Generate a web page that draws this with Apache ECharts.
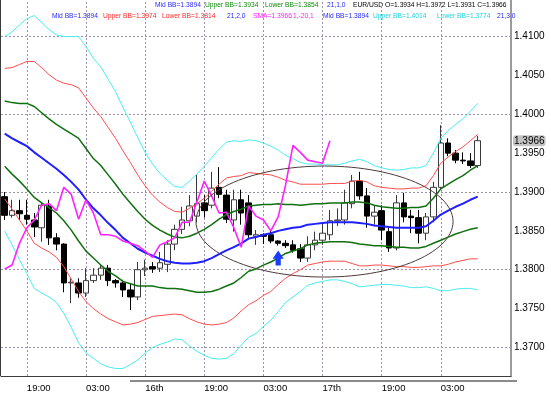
<!DOCTYPE html>
<html><head><meta charset="utf-8">
<script src="https://cdn.jsdelivr.net/npm/echarts@6/dist/echarts.min.js"></script>
<style>html,body{margin:0;padding:0;background:#fff;}#c{width:551px;height:395px;}</style>
</head><body><div id="c"></div>
<script>
// ---------- data ----------
const barCount = 69;
const tickIndex = [3, 11, 19, 27, 35, 43, 51, 59];
const tickLabels = ['19:00', '03:00', '16th', '19:00', '03:00', '17th', '19:00', '03:00'];
const priceTicks = [1.37, 1.375, 1.38, 1.385, 1.39, 1.395, 1.40, 1.405, 1.41];

const opens = [1.3894,1.3870,1.3876,1.3870,1.3864,1.3854,1.3882,1.3841,1.3833,1.3783,
1.3783,1.3770,1.3786,1.3793,1.3802,1.3786,1.3783,1.3774,1.3765,1.3800,
1.3804,1.3802,1.3807,1.3833,1.3852,1.3863,1.3869,1.3886,1.3883,1.3906,
1.3896,1.3864,1.3890,1.3886,1.3843,1.3845,1.3845,1.3837,1.3834,1.3832,
1.3827,1.3815,1.3832,1.3838,1.3845,1.3863,1.3864,1.3885,1.3914,1.3895,
1.3869,1.3876,1.3849,1.3828,1.3886,1.3869,1.3867,1.3847,1.3868,1.3906,
1.3963,1.3950,1.3941,1.3940,1.3934];
const closes = [1.3870,1.3876,1.3872,1.3865,1.3855,1.3883,1.3841,1.3833,1.3783,1.3784,
1.3770,1.3786,1.3793,1.3802,1.3786,1.3783,1.3774,1.3765,1.3800,1.3802,
1.3801,1.3809,1.3833,1.3852,1.3864,1.3882,1.3885,1.3876,1.3905,1.3897,
1.3865,1.3890,1.3873,1.3845,1.3845,1.3843,1.3837,1.3834,1.3831,1.3825,
1.3815,1.3832,1.3838,1.3847,1.3863,1.3864,1.3886,1.3914,1.3895,1.3869,
1.3874,1.3851,1.3828,1.3886,1.3868,1.3867,1.3847,1.3868,1.3906,1.3963,
1.3950,1.3941,1.3940,1.3934,1.3966];
const lows = [1.3864,1.3867,1.3864,1.3858,1.3842,1.3836,1.3832,1.3825,1.3771,1.3757,
1.3764,1.3765,1.3783,1.3787,1.3779,1.3777,1.3765,1.3748,1.3761,1.3792,
1.3796,1.3797,1.3797,1.3825,1.3846,1.3856,1.3861,1.3867,1.3879,1.3892,
1.3860,1.3849,1.3858,1.3841,1.3832,1.3833,1.3834,1.3831,1.3828,1.3822,
1.3810,1.3810,1.3825,1.3832,1.3838,1.3856,1.3858,1.3879,1.3890,1.3854,
1.3858,1.3838,1.3823,1.3825,1.3861,1.3847,1.3834,1.3838,1.3861,1.3903,
1.3946,1.3937,1.3936,1.3931,1.3931];
const highs = [1.3900,1.3890,1.3890,1.3890,1.3873,1.3887,1.3890,1.3847,1.3834,1.3789,
1.3789,1.3802,1.3802,1.3806,1.3806,1.3788,1.3787,1.3783,1.3810,1.3813,
1.3810,1.3823,1.3838,1.3858,1.3881,1.3896,1.3922,1.3896,1.3926,1.3932,
1.3903,1.3903,1.3903,1.3896,1.3851,1.3847,1.3851,1.3838,1.3838,1.3838,
1.3833,1.3843,1.3849,1.3861,1.3877,1.3879,1.3903,1.3922,1.3926,1.3905,
1.3883,1.3883,1.3854,1.3896,1.3899,1.3877,1.3877,1.3873,1.3913,1.3986,
1.3969,1.3954,1.3951,1.3950,1.3972];

const midBB = [1.3975,1.3969,1.3964,1.3959,1.3951,1.3944,1.3937,1.3930,1.3922,1.3913,
1.3903,1.3890,1.3879,1.3870,1.3860,1.3851,1.3841,1.3834,1.3827,1.3822,
1.3818,1.3814,1.3811,1.3809,1.3808,1.3808,1.3809,1.3811,1.3815,1.3820,
1.3825,1.3829,1.3834,1.3840,1.3842,1.3845,1.3847,1.3850,1.3852,1.3854,
1.3855,1.3858,1.3859,1.3860,1.3861,1.3861,1.3861,1.3861,1.3860,1.3859,
1.3857,1.3856,1.3855,1.3854,1.3854,1.3854,1.3854,1.3856,1.3863,1.3871,
1.3876,1.3881,1.3885,1.3890,1.3894];
const upperBB1 = [1.4017,1.4015,1.4014,1.4014,1.4010,1.4002,1.3994,1.3987,1.3981,1.3975,
1.3969,1.3956,1.3943,1.3934,1.3922,1.3910,1.3897,1.3886,1.3875,1.3865,
1.3857,1.3851,1.3846,1.3842,1.3841,1.3843,1.3847,1.3852,1.3858,1.3865,
1.3871,1.3875,1.3878,1.3882,1.3883,1.3884,1.3884,1.3885,1.3884,1.3884,
1.3883,1.3884,1.3885,1.3885,1.3886,1.3886,1.3886,1.3887,1.3887,1.3886,
1.3883,1.3881,1.3880,1.3879,1.3879,1.3880,1.3880,1.3882,1.3892,1.3904,
1.3910,1.3916,1.3921,1.3928,1.3934];
const lowerBB1 = [1.3933,1.3923,1.3914,1.3904,1.3893,1.3886,1.3880,1.3873,1.3863,1.3851,
1.3837,1.3824,1.3815,1.3806,1.3798,1.3792,1.3785,1.3782,1.3779,1.3779,
1.3779,1.3777,1.3776,1.3776,1.3775,1.3773,1.3771,1.3771,1.3772,1.3775,
1.3779,1.3783,1.3790,1.3798,1.3801,1.3806,1.3810,1.3815,1.3821,1.3824,
1.3827,1.3832,1.3834,1.3835,1.3836,1.3836,1.3836,1.3835,1.3833,1.3832,
1.3831,1.3831,1.3830,1.3829,1.3829,1.3828,1.3828,1.3830,1.3834,1.3838,
1.3842,1.3846,1.3849,1.3852,1.3854];
const upperBB2 = [1.4059,1.4060,1.4064,1.4068,1.4068,1.4060,1.4051,1.4044,1.4040,1.4038,
1.4034,1.4021,1.4008,1.3997,1.3983,1.3969,1.3953,1.3938,1.3922,1.3908,
1.3896,1.3887,1.3880,1.3875,1.3874,1.3879,1.3885,1.3892,1.3901,1.3910,
1.3918,1.3920,1.3921,1.3925,1.3924,1.3923,1.3922,1.3919,1.3915,1.3913,
1.3910,1.3910,1.3910,1.3910,1.3911,1.3911,1.3911,1.3914,1.3915,1.3913,
1.3908,1.3906,1.3905,1.3904,1.3904,1.3905,1.3905,1.3908,1.3921,1.3937,
1.3945,1.3952,1.3958,1.3966,1.3974];
const lowerBB2 = [1.3891,1.3878,1.3864,1.3850,1.3834,1.3828,1.3823,1.3816,1.3804,1.3788,
1.3772,1.3759,1.3750,1.3743,1.3737,1.3733,1.3729,1.3730,1.3732,1.3736,
1.3740,1.3741,1.3742,1.3743,1.3742,1.3737,1.3733,1.3730,1.3729,1.3730,
1.3732,1.3738,1.3747,1.3755,1.3760,1.3767,1.3772,1.3781,1.3789,1.3795,
1.3800,1.3806,1.3808,1.3810,1.3811,1.3811,1.3811,1.3808,1.3805,1.3805,
1.3806,1.3806,1.3805,1.3804,1.3804,1.3803,1.3803,1.3804,1.3805,1.3805,
1.3807,1.3810,1.3812,1.3814,1.3814];
const upperBB3 = [1.4100,1.4106,1.4115,1.4123,1.4127,1.4118,1.4109,1.4102,1.4100,1.4100,
1.4100,1.4087,1.4072,1.4061,1.4045,1.4029,1.4009,1.3990,1.3970,1.3951,
1.3936,1.3924,1.3915,1.3907,1.3906,1.3914,1.3923,1.3933,1.3944,1.3955,
1.3964,1.3966,1.3965,1.3967,1.3966,1.3963,1.3959,1.3954,1.3947,1.3943,
1.3938,1.3936,1.3936,1.3935,1.3935,1.3935,1.3937,1.3940,1.3942,1.3939,
1.3934,1.3931,1.3929,1.3928,1.3929,1.3931,1.3931,1.3934,1.3950,1.3969,
1.3979,1.3987,1.3994,1.4004,1.4014];
const lowerBB3 = [1.3850,1.3832,1.3813,1.3795,1.3776,1.3770,1.3765,1.3758,1.3744,1.3726,
1.3706,1.3693,1.3686,1.3679,1.3675,1.3673,1.3673,1.3678,1.3684,1.3693,
1.3700,1.3704,1.3707,1.3711,1.3710,1.3702,1.3695,1.3690,1.3686,1.3685,
1.3686,1.3692,1.3703,1.3713,1.3718,1.3727,1.3735,1.3746,1.3758,1.3765,
1.3772,1.3780,1.3783,1.3785,1.3787,1.3787,1.3785,1.3782,1.3778,1.3779,
1.3780,1.3781,1.3781,1.3780,1.3779,1.3777,1.3777,1.3778,1.3776,1.3773,
1.3773,1.3775,1.3776,1.3776,1.3774];
// SMA(1) shifted -20 bars
const smaShifted = [1.3801,1.3806,1.3834,1.3854,1.3864,1.3883,1.3885,1.3876,1.3906,1.3897,
1.3865,1.3890,1.3873,1.3845,1.3845,1.3843,1.3837,1.3834,1.3831,1.3824,
1.3816,1.3832,1.3836,1.3841,1.3861,1.3861,1.3887,1.3914,1.3895,1.3873,
1.3874,1.3854,1.3829,1.3882,1.3869,1.3864,1.3850,1.3868,1.3909,1.3960,
1.3951,1.3941,1.3939,1.3937,1.3966];

const lastPrice = 1.3966;
const arrowMark = { index: 37, value: 1.3815 };
const ellipseNote = { centerIndex: 43.27, centerValue: 1.3862, halfWidthBars: 17.39, halfHeight: 0.00714 };

// ---------- chart ----------
const cats = Array.from({ length: barCount }, (_, i) => 'b' + i);
const candles = opens.map((o, i) => [o, closes[i], lows[i], highs[i]]);
const last = opens.length - 1;
const f4 = v => v.toFixed(4);

const FONT = 'Liberation Sans';
const gridColor = '#9c90b0';

const lineSeries = (data, color, width) => ({
  type: 'line', data, symbol: 'none', showSymbol: false, silent: true, z: 4,
  lineStyle: { color, width }, animation: false
});

const hdr = [];
function addText(x, y, text, color) {
  hdr.push({ type: 'text', x, y, silent: true,
    style: { text, fill: color, font: '6.7px "' + FONT + '"', textVerticalAlign: 'top' } });
}
const cBlue = '#2a2aff', cGreen = '#108a10', cRed = '#ff2a2a', cMag = '#ff22ff', cCyan = '#20d0dc';
addText(155, 2, 'Mid BB=' + f4(midBB[last]), cBlue);
addText(205, 2, 'Upper BB=' + f4(upperBB1[last]), cGreen);
addText(265, 2, 'Lower BB=' + f4(lowerBB1[last]), cGreen);
addText(327, 2, '21,1,0', cBlue);
addText(353, 2, 'EUR/USD O=' + f4(opens[last]) + ' H=' + f4(highs[last]) + ' L=' + f4(lows[last]) + ' C=' + f4(closes[last]), '#000');
addText(52, 13, 'Mid BB=' + f4(midBB[last]), cBlue);
addText(103, 13, 'Upper BB=' + f4(upperBB2[last]), cRed);
addText(162, 13, 'Lower BB=' + f4(lowerBB2[last]), cRed);
addText(227, 13, '21,2,0', cBlue);
addText(253, 13, 'SMA=' + f4(smaShifted[smaShifted.length - 1]), cMag);
addText(293, 13, '1,-20,1', cMag);
addText(323, 13, 'Mid BB=' + f4(midBB[last]), cBlue);
addText(373, 13, 'Upper BB=' + f4(upperBB3[last]), cCyan);
addText(437, 13, 'Lower BB=' + f4(lowerBB3[last]), cCyan);
addText(497, 13, '21,3,0', cBlue);

const chart = echarts.init(document.getElementById('c'), null, { renderer: 'canvas', width: 551, height: 395 });
chart.setOption({
  animation: false,
  backgroundColor: '#fff',
  grid: { left: 1, right: 40, top: 0, bottom: 19, containLabel: false, outerBoundsMode: 'none' },
  xAxis: {
    type: 'category', data: cats, boundaryGap: true,
    axisLine: { show: true, lineStyle: { color: '#3c3c3c', width: 1 } },
    axisTick: { show: false }, splitLine: { show: false },
    axisLabel: {
      interval: (i) => tickIndex.includes(i),
      formatter: (v, i) => { const k = tickIndex.indexOf(i); return k >= 0 ? tickLabels[k] : ''; },
      align: 'left', margin: 7, fontSize: 9.5, color: '#000', fontFamily: FONT
    }
  },
  yAxis: {
    type: 'value', position: 'right', min: 1.36633, max: 1.4147, scale: true,
    axisLine: { show: true, lineStyle: { color: '#9a9a9a', width: 2 } },
    axisTick: { show: false }, splitLine: { show: false },
    axisLabel: { customValues: priceTicks, formatter: v => v.toFixed(4), margin: 3, fontSize: 10, color: '#000', fontFamily: FONT },
    axisPointer: {
      show: true, value: lastPrice, status: 'show', snap: false, triggerTooltip: false, type: 'line',
      lineStyle: { color: 'rgba(0,0,0,0)', width: 0 },
      label: { show: true, formatter: p => f4(p.value), backgroundColor: '#c4c4c4', color: '#000',
        fontSize: 10, fontFamily: FONT, padding: [1, 1, 0, 1], margin: 2 }
    }
  },
  graphic: [
    { type: 'line', silent: true, shape: { x1: 0.5, y1: 0, x2: 0.5, y2: 376 }, style: { stroke: '#3c3c3c', lineWidth: 1 } },
    { type: 'rect', silent: true, shape: { x: 130, y: 380, width: 387, height: 2 }, style: { fill: '#8a8a8a' } },
    ...hdr
  ],
  series: [
    {
      type: 'line', data: [], z: 0, silent: true,
      markLine: {
        silent: true, symbol: 'none', animation: false, z: 0,
        label: { show: false },
        lineStyle: { color: gridColor, type: [2, 2], width: 1 },
        data: [
          ...priceTicks.map(v => ({ yAxis: v })),
          ...tickIndex.map(i => ({ xAxis: i }))
        ]
      }
    },
    {
      type: 'candlestick', data: candles, barWidth: 6, z: 2, silent: true,
      itemStyle: { color: '#ffffff', color0: '#000000', borderColor: '#3a3a3a', borderColor0: '#000000', borderWidth: 1 },
      markPoint: {
        animation: false, silent: true,
        data: [{
          coord: [arrowMark.index, arrowMark.value],
          symbol: 'path://M5.3,0 L10.6,7.7 L7.8,7.7 L7.8,14.3 L2.8,14.3 L2.8,7.7 L0,7.7 Z',
          symbolSize: [11, 15], itemStyle: { color: '#1a3cff' }, label: { show: false }
        }]
      }
    },
    lineSeries(upperBB3, '#48eef0', 1),
    lineSeries(lowerBB3, '#48eef0', 1),
    lineSeries(upperBB2, '#ff4d4d', 1),
    lineSeries(lowerBB2, '#ff4d4d', 1),
    lineSeries(upperBB1, '#107010', 1.5),
    lineSeries(lowerBB1, '#107010', 1.5),
    lineSeries(midBB, '#1f1fff', 2),
    lineSeries(smaShifted, '#ff22ff', 1.6),
    {
      type: 'custom', data: [[Math.floor(ellipseNote.centerIndex), ellipseNote.centerValue]],
      encode: { x: 0, y: 1 }, z: 5, silent: true, clip: false,
      renderItem: (params, api) => {
        const base = api.coord([Math.floor(ellipseNote.centerIndex), ellipseNote.centerValue]);
        const sz = api.size([1, ellipseNote.halfHeight]);
        const band = sz[0];
        const cx = base[0] + (ellipseNote.centerIndex - Math.floor(ellipseNote.centerIndex)) * band;
        const cy = base[1];
        const rx = ellipseNote.halfWidthBars * band, ry = sz[1];
        const pts = [];
        for (let k = 0; k < 120; k++) {
          const t = k / 120 * Math.PI * 2;
          pts.push([cx + rx * Math.cos(t), cy + ry * Math.sin(t)]);
        }
        return { type: 'polygon', shape: { points: pts }, style: { fill: 'none', stroke: '#4e3a3a', lineWidth: 1 } };
      }
    }
  ]
});
</script>
</body></html>
